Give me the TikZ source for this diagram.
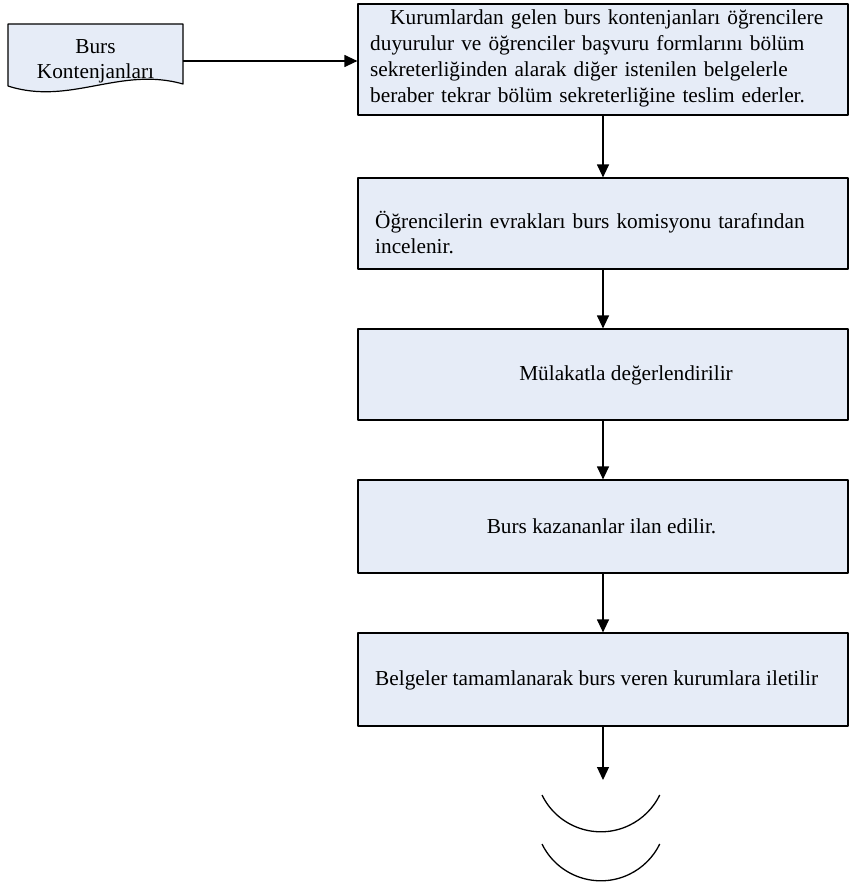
\documentclass[tikz,border=0pt]{standalone}
\usepackage{fontspec}
\setmainfont{Liberation Serif}
\usepackage{tikz}
\usetikzlibrary{arrows.meta,positioning}
\definecolor{boxfill}{RGB}{230,236,247}
\newcommand \mydrawcurl[2]
{
\draw[line width=1.3pt] (#1,#2) arc[start angle=206,end angle=334,radius=65.5pt];
}

\begin{document}
\begin{tikzpicture}[x=1pt,y=-1pt, line join=round,
  box/.style={draw,fill=boxfill,line width=1.2pt,minimum width=490pt,minimum height=91pt,inner sep=0pt},
  txt/.style={inner sep=0pt,font=\fontsize{21.3}{25}\selectfont},
  link/.style={->,line width=1.2pt},
  >={Triangle[length=13pt,width=12pt]}]
\useasboundingbox (0,0) rectangle (851,884);
\draw[line width=1.2pt,fill=boxfill] (8,24)--(183,24)--(183,84) .. controls (120,66) and (70,106) .. (8,86)--cycle;
\node[txt,align=center,minimum width=175pt] (doc) at (95.5,61) {Burs\\Kontenjanları};
\node[box,minimum height=111pt] (b1) at (603,59.5) {};
\node[box] (b2) at (603,223.5) {};
\node[box] (b3) at (603,374.5) {};
\node[box,minimum height=93pt] (b4) at (603,526.5) {};
\node[box,minimum height=93pt] (b5) at (603,679.5) {};
\coordinate (end) at (603,780);
\node[txt,font=\fontsize{21.3}{26}\selectfont,text width=473pt,align=left,anchor=base west] (t1) at (370,24)
  {\makebox[473pt]{Kurumlardan gelen burs kontenjanları öğrencilere}\\
   \makebox[473pt][s]{duyurulur ve öğrenciler başvuru formlarını bölüm}\\
   \makebox[473pt][s]{sekreterliğinden alarak diğer istenilen belgelerle}\\
   beraber tekrar bölüm sekreterliğine teslim ederler.};
\node[txt,text width=455pt,align=left,anchor=base west] (t2) at (375,228) {Öğrencilerin evrakları burs komisyonu tarafından\\incelenir.};
\node[txt,anchor=base] (t3) at (626,380) {Mülakatla değerlendirilir};
\node[txt,anchor=base] (t4) at (601.5,533) {Burs kazananlar ilan edilir.};
\node[txt,anchor=base west] (t5) at (375,685) {Belgeler tamamlanarak burs veren kurumlara iletilir};
\draw[link] (doc.east)--(doc.east-|b1.west);
\draw[link] (b1)--(b2);
\draw[link] (b2)--(b3);
\draw[link] (b3)--(b4);
\draw[link] (b4)--(b5);
\draw[link] (b5)--(end);
\mydrawcurl{542}{795}
\mydrawcurl{542}{844}
\end{tikzpicture}
\end{document}
